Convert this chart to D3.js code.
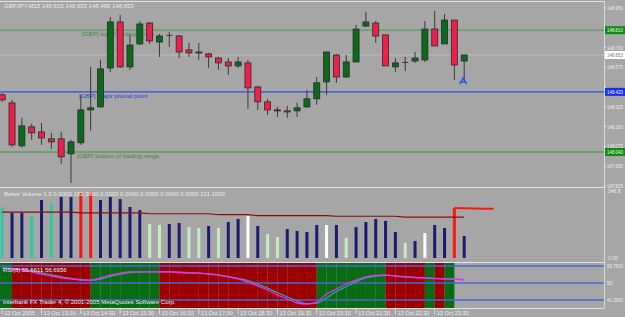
<!DOCTYPE html>
<html>
<head>
<meta charset="utf-8">
<script src="https://cdn.jsdelivr.net/npm/d3@7"></script>
<style>
  html, body { margin: 0; padding: 0; background: #a6a6a6; }
  svg { display: block; font-family: "Liberation Sans", Arial, sans-serif; }
</style>
</head>
<body>
<div id="chart"></div>
<script>
// GBPJPY M15, 48 bars
const opens  = [148.401,148.350,148.079,148.199,148.167,148.123,148.123,148.028,148.098,148.306,
                148.325,148.571,148.862,148.578,148.723,148.855,148.735,148.780,148.773,148.685,
                148.672,148.660,148.634,148.609,148.584,148.603,148.451,148.357,148.306,148.300,
                148.300,148.325,148.376,148.483,148.653,148.514,148.609,148.836,148.855,148.780,
                148.578,148.609,148.615,148.622,148.817,148.723,148.874,148.615];
const highs  = [148.413,148.369,148.256,148.218,148.224,148.161,148.167,148.117,148.401,148.578,
                148.622,148.893,148.906,148.780,148.868,148.862,148.786,148.798,148.780,148.729,
                148.729,148.666,148.641,148.634,148.641,148.622,148.458,148.376,148.325,148.331,
                148.350,148.432,148.514,148.672,148.660,148.653,148.843,148.925,148.868,148.780,
                148.634,148.641,148.672,148.868,148.931,148.912,148.874,148.653];
const lows   = [148.357,148.072,148.066,148.117,148.085,148.060,147.965,147.845,148.085,148.174,
                148.319,148.546,148.571,148.559,148.716,148.723,148.641,148.704,148.634,148.641,
                148.622,148.571,148.559,148.527,148.571,148.312,148.306,148.274,148.262,148.256,
                148.262,148.319,148.338,148.401,148.477,148.508,148.609,148.830,148.729,148.584,
                148.546,148.552,148.603,148.609,148.710,148.723,148.495,148.495];
const closes = [148.369,148.085,148.205,148.161,148.129,148.104,148.009,148.104,148.306,148.319,
                148.565,148.862,148.578,148.716,148.849,148.742,148.773,148.780,148.672,148.666,
                148.666,148.641,148.603,148.584,148.609,148.445,148.357,148.306,148.300,148.293,
                148.319,148.376,148.477,148.672,148.514,148.609,148.817,148.862,148.773,148.584,
                148.603,148.609,148.634,148.817,148.710,148.874,148.590,148.653];

const priceTicks = [148.950,148.825,148.700,148.575,148.450,148.325,148.200,148.075,147.950,147.825];
const levelValues = [148.810, 148.653, 148.420, 148.040];
const levelKinds  = ["green", "bid", "blue", "green"];
const levelTexts  = ["[GBP] top of trading range", "", "[GBP] major pivotal point", "[GBP] bottom of trading range"];

// Better Volume
const volumes = [264,233,233,217,300,285,316,316,336,342, 300,316,305,264,248,176,171,176,181,160,
                 155,166,155,186,202,217,166,124,109,150, 140,135,171,171,171,104,160,186,202,192,
                 135,78,88,129,171,155,259,114];
const volKinds = ["aqua","navy","navy","aqua","navy","aqua","navy","navy","red","red",
                  "navy","navy","navy","navy","navy","pale","pale","navy","navy","pale",
                  "pale","navy","pale","navy","navy","white","navy","pale","pale","navy",
                  "navy","navy","navy","white","navy","pale","navy","navy","navy","navy",
                  "navy","pale","navy","white","navy","navy","red","navy"];
const volAvg = [237,237,237,237,237,237,237,237,234,234, 234,234,234,234,234,229,229,229,229,229,
                229,229,224,224,224,224,219,219,219,219, 219,219,219,219,216,216,216,216,216,216,
                216,212,212,212,212,212,212,212];
const volRedIdx = [46, 49, 50];
const volRedVal = [259, 255, 255];

// RSI
const rsiMain = [57.7,57.2,56.7,55.7,54.6,53.6,52.6,52.1,51.5,51.5, 52.6,54.1,55.1,55.7,55.7,55.7,55.7,55.7,55.4,55.1,
                 55.1,54.6,54.1,53.1,52.1,50.5,48.5,46.4,43.8,41.8, 39.7,39.2,40.2,44.3,46.9,49.5,51.5,53.1,53.9,54.1,
                 53.6,53.1,52.8,52.6,52.3,52.1,52.1,51.5];
const rsiSignal = [57.9,57.5,57.0,56.2,55.2,54.2,53.2,52.4,51.8,51.4, 52.0,53.4,54.6,55.4,55.6,55.7,55.7,55.7,55.6,55.3,
                   55.1,54.7,54.2,53.4,52.4,51.2,49.4,47.4,45.0,42.8, 40.7,39.4,39.6,42.4,45.6,48.2,50.7,52.6,53.6,54.0,
                   53.7,53.3,52.9,52.6,52.4,52.2,52.0,51.7];
const rsiZones = ["g","r","r","r","r","r","r","r","r","g", "g","g","g","g","g","g","r","r","r","r",
                  "r","r","r","r","r","r","r","r","r","r", "r","r","g","g","g","g","g","g","g","r",
                  "r","r","r","g","r","g"];
const rsiLevels = [58.75, 50, 41.25];
const rsiLevelText = ["58.7500", "50", "41.2500"];

const timeIdx  = [0,4,8,12,16,20,24,28,32,36,40,44];
const timeText = ["13 Oct 2005","13 Oct 13:30","13 Oct 14:30","13 Oct 15:30","13 Oct 16:30","13 Oct 17:30",
                  "13 Oct 18:30","13 Oct 19:30","13 Oct 20:30","13 Oct 21:30","13 Oct 22:30","13 Oct 23:30"];

/* ---------- layout ---------- */
const W = 625, H = 317;
const AX = 604;                 // right axis edge
const FG = "#ececec";

const svg = d3.select("#chart").append("svg").attr("width", W).attr("height", H);
svg.append("rect").attr("width", W).attr("height", H).attr("fill", "#a6a6a6");

const idx = d3.range(opens.length);
const x  = d3.scaleLinear().domain([0, 47]).range([2.2, 464.2]);
const py = d3.scaleLinear().domain([147.825, 148.95]).range([186, 8]);
const vy = d3.scaleLinear().domain([0, 346.8]).range([258, 191]);
const ry = d3.scaleLinear().domain([41.25, 58.75]).range([300, 266]);

svg.append("clipPath").attr("id", "cMain").append("rect").attr("x", 0).attr("y", 2).attr("width", AX).attr("height", 184);
svg.append("clipPath").attr("id", "cVol").append("rect").attr("x", 0).attr("y", 188).attr("width", AX).attr("height", 74);
svg.append("clipPath").attr("id", "cRsi").append("rect").attr("x", 0).attr("y", 263).attr("width", AX).attr("height", 45);

/* ---------- main price window ---------- */
const gm = svg.append("g").attr("clip-path", "url(#cMain)");

const levelColor = { green: "#5f9a5f", bid: "#bcbcbc", blue: "#2e4fe0" };
const textColor  = { green: "#3f8a3f", blue: "#2a44d8" };
gm.selectAll("line.lvl").data(levelValues).join("line")
  .attr("x1", 0).attr("x2", AX)
  .attr("y1", d => py(d)).attr("y2", d => py(d))
  .attr("stroke", (d, i) => levelColor[levelKinds[i]])
  .attr("stroke-width", (d, i) => levelKinds[i] === "bid" ? 1 : 1.4);

gm.selectAll("text.lvl").data(levelValues).join("text")
  .attr("x", (d, i) => i === 3 ? 77 : (i === 2 ? 79 : 82))
  .attr("y", d => py(d) + 6)
  .attr("fill", (d, i) => textColor[levelKinds[i]] || "none")
  .attr("font-size", 6.2)
  .text((d, i) => levelTexts[i]);

// wicks
gm.selectAll("line.wick").data(idx).join("line")
  .attr("x1", i => x(i)).attr("x2", i => x(i))
  .attr("y1", i => py(highs[i])).attr("y2", i => py(lows[i]))
  .attr("stroke", "#3a3a3a").attr("stroke-width", 1);

// bodies
gm.selectAll("rect.body").data(idx).join("rect")
  .attr("x", i => x(i) - 3).attr("width", 6)
  .attr("y", i => py(Math.max(opens[i], closes[i])))
  .attr("height", i => Math.max(1, Math.abs(py(opens[i]) - py(closes[i]))))
  .attr("fill", i => closes[i] > opens[i] ? "#0c6a1c" : (closes[i] < opens[i] ? "#ef1f4b" : "#3a3a3a"))
  .attr("stroke", i => closes[i] === opens[i] ? "none" : "#2a2a2a")
  .attr("stroke-width", 0.8);

// blue arrow under the last bar
const ai = 47;
gm.append("path")
  .attr("transform", `translate(${x(ai) - 1},${py(lows[ai]) + 1})`)
  .attr("d", "M-3.5,3 L0,-3 L3.5,3 M-2,1 L2,1")
  .attr("fill", "none").attr("stroke", "#3355ee").attr("stroke-width", 1.6);

svg.append("text").attr("x", 4).attr("y", 8).attr("fill", FG).attr("font-size", 6)
  .text("GBPJPY,M15  148.615 148.653 148.495 148.653");

/* ---------- volume window ---------- */
const gv = svg.append("g").attr("clip-path", "url(#cVol)");
const volColor = { navy: "#1c1c6e", aqua: "#2fc8a2", red: "#ff1414", pale: "#c6eac6", white: "#ffffff" };

gv.selectAll("rect.vol").data(idx).join("rect")
  .attr("x", i => x(i) - 1.5).attr("width", 3)
  .attr("y", i => vy(volumes[i]))
  .attr("height", i => vy(0) - vy(volumes[i]))
  .attr("fill", i => volColor[volKinds[i]]);

gv.append("path").datum(idx)
  .attr("d", d3.line().x(i => x(i)).y(i => vy(volAvg[i])))
  .attr("fill", "none").attr("stroke", "#8c0c0c").attr("stroke-width", 1.2);

gv.append("path").datum(d3.range(volRedIdx.length))
  .attr("d", d3.line().x(k => x(volRedIdx[k])).y(k => vy(volRedVal[k])))
  .attr("fill", "none").attr("stroke", "#ff1414").attr("stroke-width", 2);

svg.append("text").attr("x", 4).attr("y", 196).attr("fill", FG).attr("font-size", 6)
  .text("Better Volume 1.3  0.0000 183.3800 0.0000 0.0000 0.0000 0.0000 0.0000 211.1000");

/* ---------- RSI window ---------- */
const gr = svg.append("g").attr("clip-path", "url(#cRsi)");
gr.selectAll("rect.zone").data(rsiZones).join("rect")
  .attr("x", (d, i) => i === 0 ? 0 : x(i))
  .attr("width", (d, i) => x(i + 1) - (i === 0 ? 0 : x(i)))
  .attr("y", 263).attr("height", 45)
  .attr("fill", d => d === "g" ? "#0a6c12" : "#9c0000");

gr.selectAll("line.rl").data(rsiLevels).join("line")
  .attr("x1", 0).attr("x2", AX)
  .attr("y1", d => ry(d)).attr("y2", d => ry(d))
  .attr("stroke", "#4a66d6").attr("stroke-width", 1.5);

gr.append("path").datum(idx)
  .attr("d", d3.line().x(i => x(i)).y(i => ry(rsiSignal[i])).curve(d3.curveMonotoneX))
  .attr("fill", "none").attr("stroke", "#22a6a0").attr("stroke-width", 1.3);
gr.append("path").datum(idx)
  .attr("d", d3.line().x(i => x(i)).y(i => ry(rsiMain[i])).curve(d3.curveMonotoneX))
  .attr("fill", "none").attr("stroke", "#ff22ff").attr("stroke-width", 1.3);

svg.append("text").attr("x", 3).attr("y", 272).attr("fill", FG).attr("font-size", 6)
  .text("RSI(8) 55.6611 56.6956");
svg.append("text").attr("x", 3).attr("y", 304).attr("fill", FG).attr("font-size", 6)
  .text("Interbank FX Trader 4, © 2001-2005 MetaQuotes Software Corp.");

/* ---------- frames ---------- */
[1, 187, 262, 308].forEach(yy =>
  svg.append("line").attr("x1", 0).attr("x2", AX).attr("y1", yy + 0.5).attr("y2", yy + 0.5)
    .attr("stroke", "#e2e2e2").attr("stroke-width", 1));
svg.append("line").attr("x1", AX + 0.5).attr("x2", AX + 0.5).attr("y1", 1).attr("y2", 308)
  .attr("stroke", "#d8d8d8").attr("stroke-width", 1);

/* ---------- right price axis ---------- */
const ra = svg.append("g").attr("font-size", 5);
// a tick label hidden under a level box is not drawn
const freeTicks = priceTicks.filter(t => levelValues.every(v => Math.abs(py(v) - py(t)) > 5));
ra.selectAll("text.pt").data(freeTicks).join("text")
  .attr("x", 607).attr("y", d => py(d) + 2)
  .attr("textLength", 16).attr("lengthAdjust", "spacingAndGlyphs")
  .attr("fill", FG).text(d => d.toFixed(3));
ra.selectAll("line.pt").data(priceTicks).join("line")
  .attr("x1", AX).attr("x2", AX + 2).attr("y1", d => py(d)).attr("y2", d => py(d))
  .attr("stroke", FG);

const boxFill = { green: "#148a14", bid: "#ffffff", blue: "#1a2ee8" };
const boxText = { green: "#e8ffe8", bid: "#777777", blue: "#ffffff" };
const boxes = ra.selectAll("g.box").data(levelValues).join("g")
  .attr("transform", d => `translate(${AX + 1},${py(d)})`);
boxes.append("rect").attr("x", 0).attr("y", -4).attr("width", 20).attr("height", 8)
  .attr("fill", (d, i) => boxFill[levelKinds[i]]);
boxes.append("text").attr("x", 2).attr("y", 2)
  .attr("textLength", 16).attr("lengthAdjust", "spacingAndGlyphs")
  .attr("fill", (d, i) => boxText[levelKinds[i]]).text(d => d.toFixed(3));

// volume axis
ra.selectAll("text.va").data([346.8, 0]).join("text")
  .attr("x", 608).attr("y", d => vy(d) + 2).attr("fill", FG)
  .text(d => d === 0 ? "0.00" : d.toFixed(1));

// rsi axis
ra.selectAll("text.ra").data(rsiLevels).join("text")
  .attr("x", 607).attr("y", d => ry(d) + 2).attr("fill", FG)
  .attr("textLength", (d, i) => rsiLevelText[i].length > 2 ? 16 : null)
  .attr("lengthAdjust", "spacingAndGlyphs")
  .text((d, i) => rsiLevelText[i]);

/* ---------- time axis ---------- */
const ta = svg.append("g").attr("font-size", 5.6);
ta.selectAll("line.tt").data(timeIdx).join("line")
  .attr("x1", i => x(i)).attr("x2", i => x(i)).attr("y1", 309).attr("y2", 314)
  .attr("stroke", FG).attr("stroke-width", 0.8);
ta.selectAll("text.tt").data(timeIdx).join("text")
  .attr("x", i => x(i) + 2).attr("y", 315).attr("fill", FG)
  .text((i, k) => timeText[k]);
</script>
</body>
</html>
